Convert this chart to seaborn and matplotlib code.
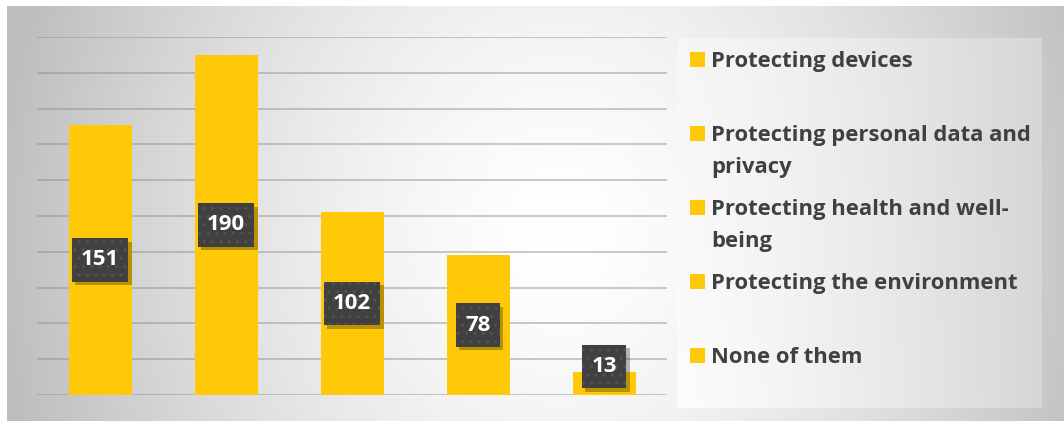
import numpy as np
import pandas as pd
import seaborn as sns
import matplotlib.pyplot as plt
import matplotlib.patheffects as pe
from matplotlib.patches import Rectangle

# =================== Data ===================

categories = ['Protecting devices',
              'Protecting personal data and\nprivacy',
              'Protecting health and well-\nbeing',
              'Protecting the environment',
              'None of them']
counts = [151, 190, 102, 78, 13]
y_ticks = list(range(0, 201, 20))

BAR_COLOR = '#FFC907'
TEXT_COLOR = '#404040'
W, H = 1064, 421


class BoxShadow(pe.AbstractPathEffect):
    """Plain (un-hatched) offset shadow for the label boxes."""

    def __init__(self, offset=(2.5, -2.5), alpha=0.28):
        super().__init__(offset)
        self._alpha = alpha

    def draw_path(self, renderer, gc, tpath, affine, rgbFace):
        gc0 = renderer.new_gc()
        gc0.copy_properties(gc)
        gc0.set_hatch(None)
        gc0.set_linewidth(0)
        gc0.set_alpha(self._alpha)
        renderer.draw_path(gc0, tpath, affine + self._offset_transform(renderer),
                           (0, 0, 0))
        gc0.restore()


# =================== Style ===================

sns.set_theme(style='white')
plt.rcParams['font.family'] = ['Open Sans', 'DejaVu Sans']

fig = plt.figure(figsize=(W / 100, H / 100), dpi=100)
fig.patch.set_facecolor('white')

# outer radial-ish grey gradient (chart area starts a few px in from top/left)
x0, y0 = 7, 6
yy, xx = np.mgrid[y0:H, x0:W]
r = np.sqrt(((xx - 560) / 540.0) ** 2 + ((yy - 230) / 620.0) ** 2)
shade = 255 - (255 - 194) * np.clip(r, 0, 1.08) ** 1.5
shade = np.clip(shade, 190, 255) / 255.0
bg = fig.add_axes([x0 / W, 0, 1 - x0 / W, (H - y0) / H])
bg.imshow(np.dstack([shade] * 3), aspect='auto', interpolation='bilinear')
bg.set_axis_off()
bg.set_zorder(-10)

# legend panel gradient
lx0, lx1, ly0, ly1 = 677, 1042, 38, 408
lyy, lxx = np.mgrid[ly0:ly1, lx0:lx1]
t = (lxx - lx0) / (lx1 - lx0)
u = (ly1 - lyy) / (ly1 - ly0)
lshade = (252 - 38 * t ** 1.3 - 6 * u * (1 - t)) / 255.0
lax = fig.add_axes([lx0 / W, (H - ly1) / H, (lx1 - lx0) / W, (ly1 - ly0) / H])
lax.imshow(np.dstack([lshade] * 3), aspect='auto', interpolation='bilinear')
lax.set_axis_off()
lax.set_zorder(-5)

# =================== Bars ===================

ax = fig.add_axes([37 / W, (H - 395) / H, (667 - 37) / W, (395 - 37) / H])
ax.set_facecolor('none')

df = pd.DataFrame({'Category': categories, 'Count': counts})
sns.barplot(data=df, x='Category', y='Count', color=BAR_COLOR,
            width=0.5, saturation=1, edgecolor='none', ax=ax)

ax.set_ylim(0, 200)
ax.set_xlim(-0.5, len(categories) - 0.5)
ax.set_yticks(y_ticks)
ax.yaxis.grid(True, color='#8c8c8c', alpha=0.5, linewidth=1.3)
ax.set_axisbelow(True)
ax.tick_params(left=False, bottom=False, labelleft=False, labelbottom=False)
ax.set_xlabel('')
ax.set_ylabel('')
for s in ax.spines.values():
    s.set_visible(False)

# data labels: dark dotted boxes, centred on the bar (nudged up on tiny bars)
for i, v in enumerate(counts):
    txt = ax.text(i, max(v / 2, 16), str(v), ha='center', va='center',
                  fontsize=16, fontweight='bold', color='white', zorder=5,
                  bbox=dict(boxstyle='square,pad=0.42', mutation_aspect=1.2,
                            facecolor='#404040', edgecolor='#525252',
                            linewidth=0, hatch='..'))
    txt.get_bbox_patch().set_path_effects([BoxShadow(), pe.Normal()])

# =================== Legend ===================

first_baseline = 67
entry_step = 74
line_step = 32
for i, label in enumerate(categories):
    base = first_baseline + i * entry_step
    fig.patches.append(Rectangle((690 / W, (H - base) / H), 15 / W, 15 / H,
                                 transform=fig.transFigure, facecolor=BAR_COLOR,
                                 edgecolor='none', zorder=3))
    for j, line in enumerate(label.split('\n')):
        fig.text(711 / W, (H - base - j * line_step) / H, line, ha='left',
                 va='baseline', fontsize=15.8, fontweight='bold', color=TEXT_COLOR)

fig.savefig('out.png', dpi=100)
